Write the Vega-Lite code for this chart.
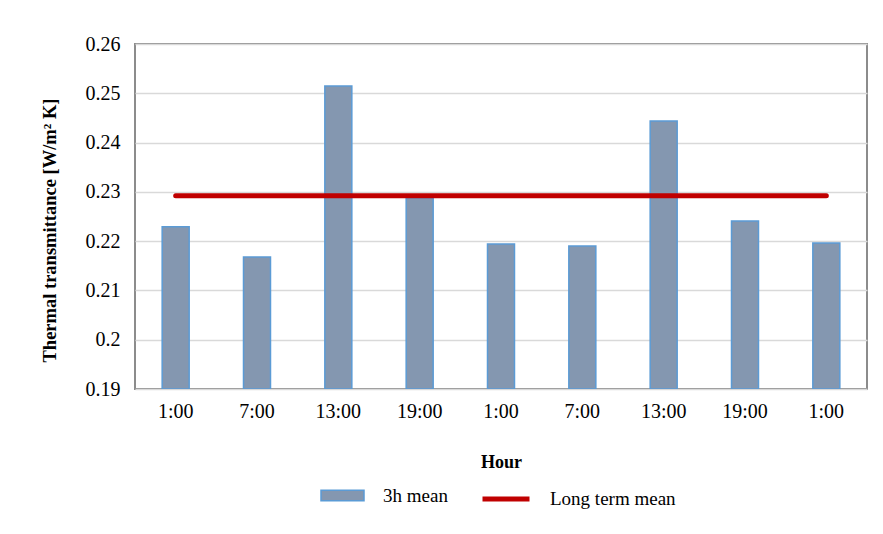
{
  "$schema": "https://vega.github.io/schema/vega-lite/v6.json",
  "autosize": {"type": "none"},
  "padding": {"left": 135, "top": 44, "right": 16, "bottom": 145},
  "width": 732,
  "height": 345,
  "background": "white",
  "config": {
    "font": "Liberation Serif",
    "view": {"stroke": "#8C8C8C", "strokeWidth": 2},
    "axis": {"labelFont": "Liberation Serif", "titleFont": "Liberation Serif", "labelColor": "#000000", "titleColor": "#000000"},
    "legend": {"labelFont": "Liberation Serif", "labelColor": "#000000"}
  },
  "data": {
    "values": [
      {"idx": 1, "hour": "1:00", "u3h": 0.2229, "longterm": 0.2292},
      {"idx": 2, "hour": "7:00", "u3h": 0.2168, "longterm": 0.2292},
      {"idx": 3, "hour": "13:00", "u3h": 0.2515, "longterm": 0.2292},
      {"idx": 4, "hour": "19:00", "u3h": 0.2288, "longterm": 0.2292},
      {"idx": 5, "hour": "1:00", "u3h": 0.2194, "longterm": 0.2292},
      {"idx": 6, "hour": "7:00", "u3h": 0.2190, "longterm": 0.2292},
      {"idx": 7, "hour": "13:00", "u3h": 0.2444, "longterm": 0.2292},
      {"idx": 8, "hour": "19:00", "u3h": 0.2241, "longterm": 0.2292},
      {"idx": 9, "hour": "1:00", "u3h": 0.2196, "longterm": 0.2292}
    ]
  },
  "encoding": {
    "x": {
      "field": "idx",
      "type": "ordinal",
      "scale": {"paddingInner": 0.668, "paddingOuter": 0.334},
      "axis": {
        "title": "Hour",
        "titleFontSize": 18,
        "titleFontWeight": "bold",
        "titlePadding": 32,
        "labelFontSize": 20,
        "labelAngle": 0,
        "labelPadding": 12,
        "ticks": false,
        "domain": false,
        "labelExpr": "['1:00','7:00','13:00','19:00','1:00','7:00','13:00','19:00','1:00'][datum.value-1]"
      }
    }
  },
  "layer": [
    {
      "mark": {"type": "bar", "stroke": "#5B9BD5", "strokeWidth": 1.5, "clip": true},
      "encoding": {
        "y": {
          "field": "u3h",
          "type": "quantitative",
          "scale": {"domain": [0.19, 0.26], "zero": false, "nice": false},
          "axis": {
            "title": "Thermal  transmittance  [W/m² K]",
            "titleFontSize": 18.5,
            "titleFontWeight": "bold",
            "titlePadding": 26,
            "titleY": 186,
            "titleAlign": "center",
            "labelFontSize": 20,
            "labelPadding": 15,
            "ticks": false,
            "domain": false,
            "values": [0.19, 0.2, 0.21, 0.22, 0.23, 0.24, 0.25, 0.26],
            "format": ".2~f",
            "gridColor": "#D9D9D9",
            "gridWidth": 1.5
          }
        },
        "y2": {"datum": 0.19},
        "fill": {
          "datum": "3h mean",
          "scale": {"domain": ["3h mean"], "range": ["#8497B0"]},
          "legend": {
            "title": null,
            "orient": "none",
            "legendX": 185,
            "legendY": 429,
            "symbolType": "M-1,-0.24H1V0.24H-1Z",
            "symbolSize": 1849,
            "symbolStrokeColor": "#5B9BD5",
            "symbolStrokeWidth": 1.5,
            "symbolOpacity": 1,
            "labelFontSize": 19,
            "labelOffset": 18
          }
        }
      }
    },
    {
      "mark": {"type": "line", "strokeWidth": 5, "strokeCap": "round"},
      "encoding": {
        "y": {"field": "longterm", "type": "quantitative"},
        "stroke": {
          "datum": "Long term mean",
          "scale": {"domain": ["Long term mean"], "range": ["#C00000"]},
          "legend": {
            "title": null,
            "orient": "none",
            "legendX": 345,
            "legendY": 429,
            "symbolType": "stroke",
            "symbolSize": 2209,
            "symbolStrokeWidth": 5,
            "labelFontSize": 19,
            "labelOffset": 18
          }
        }
      }
    }
  ]
}
